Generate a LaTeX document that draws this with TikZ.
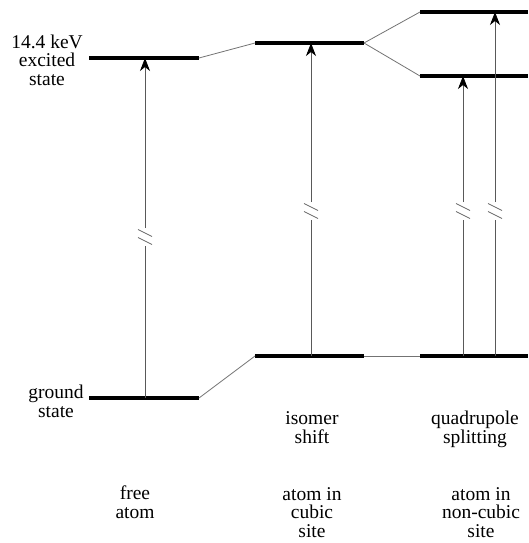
\documentclass[tikz,border=0pt]{standalone}
\usepackage{fontspec}
\setmainfont{Liberation Serif}
\usetikzlibrary{arrows.meta}
\begin{document}
\begin{tikzpicture}[x=1pt,y=-1pt,
  level/.style={line width=3.6pt,black},
  thin/.style={line width=0.8pt,black!55},
  trans/.style={line width=0.8pt,black!65},
  tip/.style={-{Stealth[length=13pt,width=10pt,inset=4pt,black]}},
  brk/.style={line width=0.8pt,black!60},
  lbl/.style={align=center,anchor=base,inner sep=0pt,font=\fontsize{19.5}{18.5}\selectfont}]
\useasboundingbox (0,0) rectangle (528,543);
% level end points
\coordinate (feL) at (89,58);   \coordinate (feR) at (199,58);
\coordinate (fgL) at (89,398);  \coordinate (fgR) at (199,398);
\coordinate (ieL) at (255,43);  \coordinate (ieR) at (364,43);
\coordinate (igL) at (255,356); \coordinate (igR) at (364,356);
\coordinate (quL) at (420,12);  \coordinate (quR) at (528,12);
\coordinate (qlL) at (420,76);  \coordinate (qlR) at (528,76);
\coordinate (qgL) at (420,356); \coordinate (qgR) at (528,356);
% levels
\draw[level] (feL) -- (feR);
\draw[level] (fgL) -- (fgR);
\draw[level] (ieL) -- (ieR);
\draw[level] (igL) -- (igR);
\draw[level] (quL) -- (quR);
\draw[level] (qlL) -- (qlR);
\draw[level] (qgL) -- (qgR);
% correlation lines
\draw[thin] (feR) -- (ieL);
\draw[thin] (fgR) -- (igL);
\draw[thin] (ieR) -- (quL);
\draw[thin] (ieR) -- (qlL);
\draw[thin] (igR) -- (qgL);
% transitions (with breaks)
\foreach \n/\x/\yg/\ye/\yb in {f/145/398/58/237, i/311/356/43/211, a/463/356/76/211, b/495/356/12/211}{
  \coordinate (\n bot) at (\x,\yg);
  \coordinate (\n top) at (\x,\ye);
  \coordinate (\n b1) at (\x,\yb+9);
  \coordinate (\n b2) at (\x,\yb-9);
  \draw[trans] (\n bot) -- (\n b1);
  \draw[trans,tip] (\n b2) -- (\n top);
  \draw[brk] ([shift={(-7,-7.5)}]\n b2 |- 0,\yb) -- ++(14,7);
  \draw[brk] ([shift={(-7,0.5)}]\n b2 |- 0,\yb) -- ++(14,7);
}
% labels (anchor = baseline of last line)
\node[lbl] (lex) at (47,85) {14.4 keV\\excited\\state};
\node[lbl] (lgr) at (56,417) {ground\\state};
\node[lbl] (lis) at (312,443) {isomer\\shift};
\node[lbl] (lqs) at (475,443) {quadrupole\\splitting};
\node[lbl] (lfa) at (135,518) {free\\atom};
\node[lbl] (lcs) at (312,537) {atom in\\cubic\\site};
\node[lbl] (lnc) at (481,537) {atom in\\non-cubic\\site};
\end{tikzpicture}
\end{document}
